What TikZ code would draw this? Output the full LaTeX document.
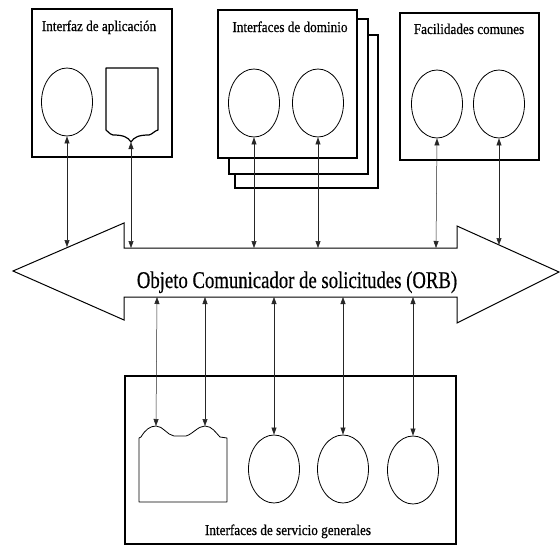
\documentclass[tikz,border=0pt]{standalone}
\usepackage{fontspec}
\setmainfont{Liberation Serif}
\newfontfamily\scanfont[FakeBold=0.6]{Liberation Serif}
\usetikzlibrary{shapes.geometric,arrows.meta}
\newcommand\narrowtxt[2]{\scalebox{#1}[1]{#2}}
\begin{document}
\begin{tikzpicture}[x=1pt,y=-1pt,
  box/.style={draw,line width=1.5pt,fill=white,inner sep=0pt,anchor=north west},
  oval/.style={draw,ellipse,line width=0.8pt,minimum width=51pt,minimum height=68pt,inner sep=0pt},
  shp/.style={draw,line width=0.8pt,line join=round},
  conn/.style={line width=0.5pt,draw=black!85,{Triangle[length=7pt,width=5pt]}-{Triangle[length=7pt,width=5pt]}},
  ttl/.style={font=\scanfont\fontsize{15}{17}\selectfont,inner sep=0pt,anchor=base}
]
\useasboundingbox (0,0) rectangle (560,546);

% --- Interfaz de aplicacion ---
\node[box,minimum width=140pt,minimum height=148pt] (appbox) at (31,8) {};
\node[ttl] (apptitle) at (99,31) {\narrowtxt{0.88}{Interfaz de aplicación}};
\node[oval] (app1) at (67,102) {};
\draw[shp,line width=1.2pt] (106,130) -- (106,68) -- (158,68) -- (158,130)
  .. controls (154,131) and (153,134) .. (149,135)
  .. controls (139,135) and (134,137) .. (131,142)
  .. controls (128,137) and (123,135) .. (113,135)
  .. controls (109,134) and (108,131) .. (106,130) -- cycle;
\coordinate (appdoc) at (131,142);

% --- Interfaces de dominio (stack) ---
\node[box,minimum width=143pt,minimum height=153pt] (dom3) at (234,34) {};
\node[box,minimum width=139pt,minimum height=155pt] (dom2) at (228,18) {};
\node[box,minimum width=139pt,minimum height=148pt] (dombox) at (217,9) {};
\node[ttl] (domtitle) at (290,32) {\narrowtxt{0.88}{Interfaces de dominio}};
\node[oval] (dom1) at (254,103) {};
\node[oval] (domb) at (318,103) {};

% --- Facilidades comunes ---
\node[box,minimum width=139pt,minimum height=147pt] (facbox) at (399,12) {};
\node[ttl] (factitle) at (469,34) {\narrowtxt{0.88}{Facilidades comunes}};
\node[oval] (fac1) at (437,104) {};
\node[oval] (fac2) at (499,104) {};

% --- ORB arrow ---
\draw[line width=1pt,line join=miter] (13,271) -- (124,223) -- (124,248) -- (457,248) -- (457,226)
  -- (559,272) -- (457,323) -- (457,297) -- (124,297) -- (124,320) -- cycle;
\node[font=\scanfont\fontsize{24}{26}\selectfont,inner sep=0pt,anchor=base] (orb) at (297,288)
  {\narrowtxt{0.78}{Objeto Comunicador de solicitudes (ORB)}};

\coordinate (t1) at (67,247);
\coordinate (t2) at (131,248);
\coordinate (t3) at (254,248);
\coordinate (t4) at (318,248);
\coordinate (t5) at (436,248);
\coordinate (t6) at (499,245);
\coordinate (u1) at (157,297);
\coordinate (u2) at (205,297);
\coordinate (u3) at (274,297);
\coordinate (u4) at (343,297);
\coordinate (u5) at (413,297);

% --- Interfaces de servicio generales ---
\node[box,minimum width=331pt,minimum height=168pt] (srvbox) at (124,375) {};
\node[ttl] (srvtitle) at (288,535) {\narrowtxt{0.88}{Interfaces de servicio generales}};
\draw[shp] (139,502) -- (139,438) -- (141,437)
  .. controls (145,430) and (150,426) .. (156,426)
  .. controls (163,426) and (167,435) .. (174,436) -- (186,436)
  .. controls (193,434) and (198,426) .. (205,426)
  .. controls (212,426) and (216,433) .. (220,437) -- (227,438) -- (227,502) -- cycle;
\coordinate (sdoc1) at (156,426);
\coordinate (sdoc2) at (205,426);
\node[oval] (srv1) at (274,469) {};
\node[oval] (srv2) at (343,469) {};
\node[oval] (srv3) at (413,470) {};

% --- connectors ---
\draw[conn] (app1.south) -- (t1);
\draw[conn] (appdoc) -- (t2);
\draw[conn] (dom1.south) -- (t3);
\draw[conn] (domb.south) -- (t4);
\draw[conn] (fac1.south) -- (t5);
\draw[conn] (fac2.south) -- (t6);
\draw[conn] (u1) -- (sdoc1);
\draw[conn] (u2) -- (sdoc2);
\draw[conn] (u3) -- (srv1.north);
\draw[conn] (u4) -- (srv2.north);
\draw[conn] (u5) -- (srv3.north);
\end{tikzpicture}
\end{document}
